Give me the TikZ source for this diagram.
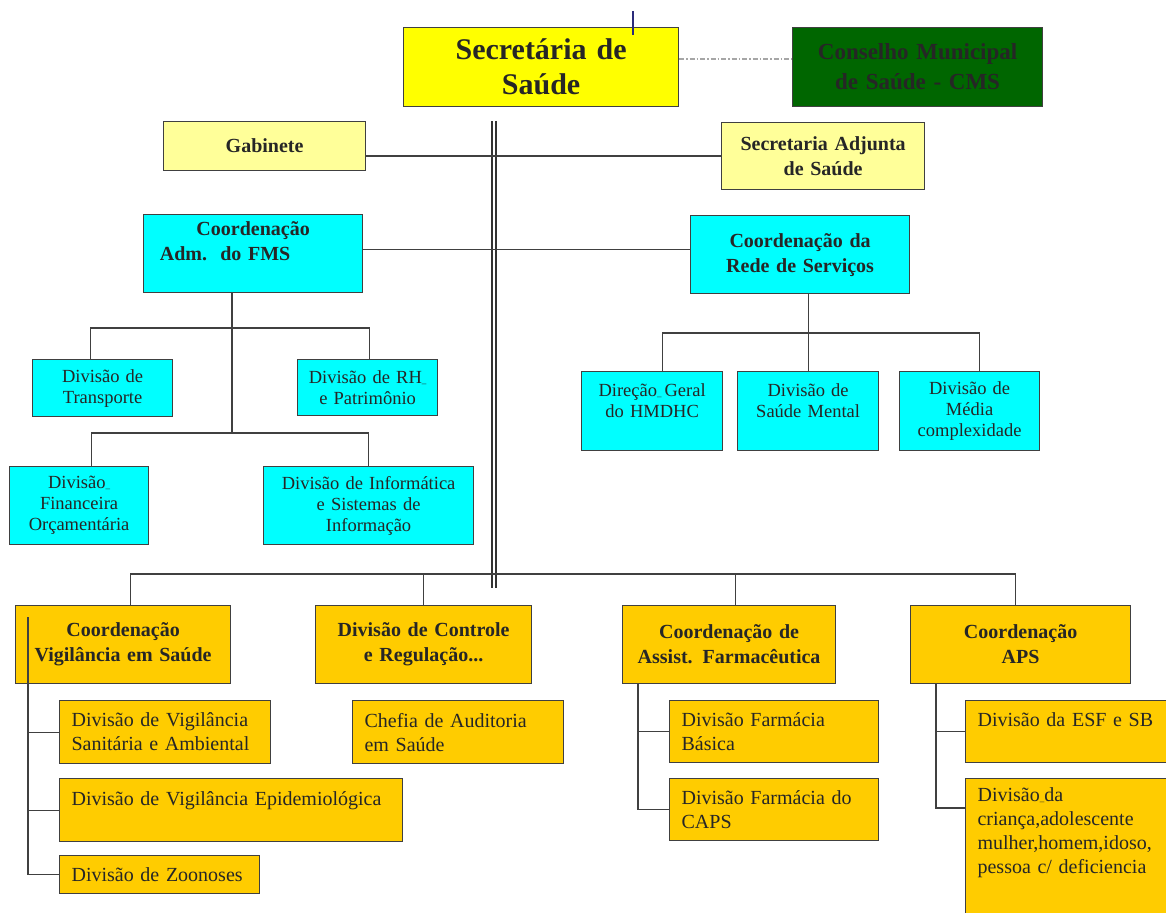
\documentclass[tikz,border=0pt]{standalone}
\usepackage{fontspec}
\setmainfont{Liberation Serif}
\usetikzlibrary{calc}

\definecolor{secyellow}{HTML}{FFFF00}
\definecolor{paleyellow}{HTML}{FFFF99}
\definecolor{aqua}{HTML}{00FFFF}
\definecolor{gold}{HTML}{FFCC00}
\definecolor{cmsgreen}{HTML}{006600}
\definecolor{tickblue}{HTML}{2B2B7A}

\tikzset{
  box/.style={draw=black!75, line width=1.2pt, anchor=north west, inner xsep=4pt, inner ysep=2pt, align=center, text=black!85},
  subbox/.style={box, fill=gold, inner xsep=12pt, align=left, font=\fontsize{20}{24}\selectfont},
  size/.code 2 args={\pgfmathsetmacro\boxtw{#1-2*\pgfkeysvalueof{/pgf/inner xsep}}\edef\boxopts{minimum width=#1pt, minimum height=#2pt, text width=\boxtw pt}\expandafter\pgfkeysalso\expandafter{\boxopts}},
  headfont/.style={font=\bfseries\fontsize{20}{25}\selectfont},
  divfont/.style={font=\fontsize{18.5}{21}\selectfont},
  link/.style={draw=black!75, line width=1.2pt},
  spine/.style={draw=black!80, line width=1.6pt, double=white, double distance=2.2pt},
  council/.style={draw=gray!70, line width=1.2pt, dash pattern=on 5pt off 2pt on 1.5pt off 2pt}
}

\begin{document}
\begin{tikzpicture}[x=1pt, y=-1pt]
    \useasboundingbox (0,0) rectangle (1166,912);

    % Top of the chart
    \node[box, fill=secyellow, size={275}{79}, font=\bfseries\fontsize{30}{35}\selectfont] (sec) at (403,27) {Secretária de\\Saúde};
    \node[box, fill=cmsgreen, size={250}{79}, font=\bfseries\fontsize{23}{30}\selectfont] (cms) at (792,27) {Conselho Municipal\\de Saúde - CMS};
    \node[box, fill=paleyellow, size={202}{49}, headfont] (gab) at (163,121) {Gabinete};
    \node[box, fill=paleyellow, size={203}{67}, headfont] (adj) at (721,122) {Secretaria Adjunta\\de Saúde};

    % Coordinations
    \node[box, fill=aqua, size={219}{78}, headfont] (fms) at (143,214) {Coordenação\\Adm.\ \ do FMS\hbox to 56pt{}\\ \mbox{}};
    \node[box, fill=aqua, size={219}{78}, headfont] (rede) at (690,215) {Coordenação da\\Rede de Serviços};

    % Divisions of the FMS
    \node[box, fill=aqua, size={140}{57}, divfont] (trans) at (32,359) {Divisão de\\Transporte};
    \node[box, fill=aqua, size={140}{56}, divfont] (rh) at (297,359) {Divisão de RH{\small\_}\\e Patrimônio};
    \node[box, fill=aqua, size={139}{78}, divfont] (fin) at (9,466) {Divisão{\small\_}\\Financeira\\Orçamentária};
    \node[box, fill=aqua, size={210}{78}, divfont] (info) at (263,466) {Divisão de Informática\\e Sistemas de\\Informação};

    % Divisions of the network
    \node[box, fill=aqua, size={141}{79}, divfont] (dir) at (581,371) {Direção{\small\_}\,Geral\\do HMDHC\\ \mbox{}};
    \node[box, fill=aqua, size={141}{79}, divfont] (mental) at (737,371) {Divisão de\\Saúde Mental\\ \mbox{}};
    \node[box, fill=aqua, size={140}{79}, divfont] (media) at (899,371) {Divisão de\\Média\\complexidade};

    % Lower row
    \node[box, fill=gold, size={215}{78}, headfont] (cvs) at (15,605) {Coordenação\\Vigilância em Saúde};
    \node[box, fill=gold, size={216}{78}, headfont] (dcr) at (315,605) {Divisão de Controle\\e Regulação...};
    \node[box, fill=gold, size={213}{78}, headfont] (caf) at (622,605) {Coordenação de\\Assist. Farmacêutica};
    \node[box, fill=gold, size={220}{78}, headfont] (aps) at (910,605) {Coordenação\\APS};

    \node[subbox, size={211}{63}] (vsa) at (59,700) {Divisão de Vigilância\\Sanitária e Ambiental};
    \node[subbox, size={343}{63}] (vep) at (59,778) {Divisão de Vigilância Epidemiológica\\ \mbox{}};
    \node[subbox, size={200}{38}] (zoo) at (59,855) {Divisão de Zoonoses};
    \node[subbox, size={211}{63}] (aud) at (352,700) {Chefia de Auditoria\\em Saúde};
    \node[subbox, size={209}{62}] (fba) at (669,700) {Divisão Farmácia\\Básica};
    \node[subbox, size={209}{62}] (fcaps) at (669,778) {Divisão Farmácia do\\CAPS};
    \node[subbox, size={215}{62}] (esf) at (965,700) {Divisão da ESF e SB\\ \mbox{}};
    \node[subbox, size={215}{175}] (cri) at (965,778) {Divisão{\small\_}da\\criança,adolescente\\mulher,homem,idoso,\\pessoa c/ deficiencia\\ \mbox{}\\ \mbox{}\\ \mbox{}};

    % Council and tick
    \draw[council] ([yshift=8pt]sec.east) -- ([yshift=8pt]cms.west);
    \coordinate (tickA) at (633,11);
    \coordinate (tickB) at (633,35);
    \draw[draw=tickblue, line width=2pt] (tickA) -- (tickB);

    % Main spine
    \coordinate (spinetop) at (494,121);
    \coordinate (spinebot) at (494,588);
    \draw[spine] (spinetop) -- (spinebot);

    % Staff and coordinations
    \draw[link] (adj.west -| gab.east) -- (adj.west);
    \draw[link] ([yshift=4pt]fms.east) -- ([yshift=4pt]fms.east -| rede.west);

    % FMS tree
    \coordinate (fmsrow1) at (232,328);
    \coordinate (fmsrow2) at (232,433);
    \draw[link] (fms.south -| fmsrow1) -- (fmsrow2);
    \draw[link] ([xshift=-12pt]trans.north) |- (fmsrow1) -| ([xshift=2pt]rh.north);
    \draw[link] ([xshift=12pt]fin.north) |- (fmsrow2) -| (info.north);

    % network tree
    \coordinate (rederow) at (807,333);
    \draw[link] (rede.south -| mental.north) -- (mental.north);
    \draw[link] ([xshift=10pt]dir.north) |- (rederow) -| ([xshift=10pt]media.north);

    % lower bus
    \coordinate (bus) at (494,574);
    \draw[link] ([xshift=7pt]cvs.north) |- (bus) -| ([xshift=-5pt]aps.north);
    \draw[link] (dcr.north) -- (dcr.north |- bus);
    \draw[link] ([xshift=6pt]caf.north) -- ([xshift=6pt]caf.north |- bus);

    % vigilance branches
    \coordinate (vigtop) at (28,617);
    \draw[link] (vigtop) |- (zoo.west);
    \foreach \n in {vsa,vep}
        \draw[link] (\n.west -| vigtop) -- (\n.west);

    % pharmacy branches
    \coordinate (farmtop) at (638,683);
    \draw[link] (farmtop) |- (fcaps.west);
    \draw[link] (fba.west -| farmtop) -- (fba.west);

    % APS branches
    \coordinate (apstop) at (936,683);
    \draw[link] (apstop) |- ($(cri.north west)+(0,30)$);
    \draw[link] (esf.west -| apstop) -- (esf.west);
\end{tikzpicture}
\end{document}
